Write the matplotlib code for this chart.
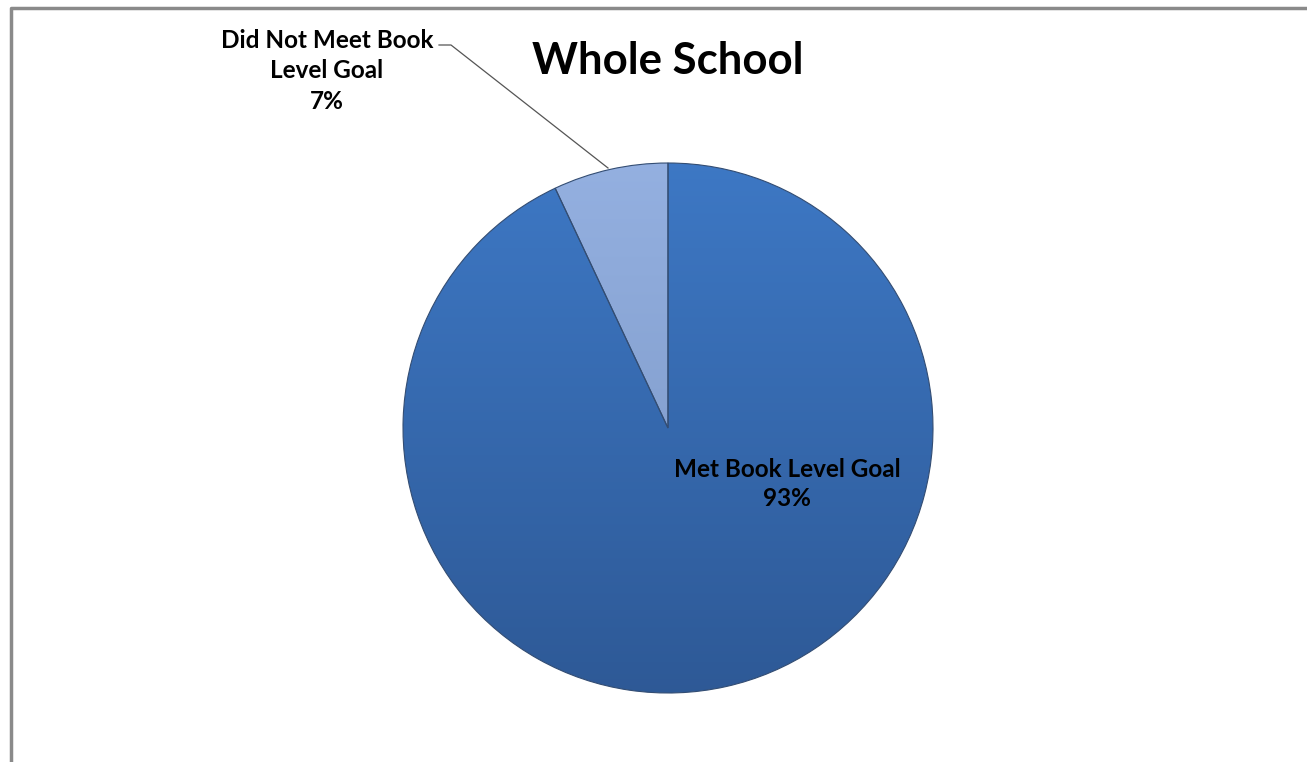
import matplotlib
matplotlib.use("Agg")
import matplotlib.pyplot as plt
import numpy as np

# datos del grafico
categorias = ["Did Not Meet Book\nLevel Goal", "Met Book Level Goal"]
valores = [7, 93]
etiquetas = ["Did Not Meet Book\nLevel Goal\n7%", "Met Book Level Goal\n93%"]
titulo = "Whole School"

# colores arriba / abajo para el degradado de cada porcion
colores_arriba = [(0.58, 0.69, 0.88), (0.24, 0.47, 0.77)]
colores_abajo = [(0.47, 0.58, 0.76), (0.18, 0.35, 0.59)]

plt.rcParams['font.family'] = ['Lato', 'DejaVu Sans']

W, H = 1307, 762
fig = plt.figure(figsize=(W / 100, H / 100), dpi=100)
ax = fig.add_axes([0, 0, 1, 1])

cx, cy, r = 668, H - 428, 265
wedges, _ = ax.pie(valores, startangle=90, counterclock=True, center=(cx, cy),
                   radius=r, frame=True,
                   wedgeprops=dict(edgecolor=(0.2, 0.3, 0.45), linewidth=0.8))
ax.set_xlim(0, W)
ax.set_ylim(0, H)
ax.axis('off')

# degradado vertical recortado a cada porcion
t = np.linspace(0, 1, 256)[:, None]
for w, ca, cb in zip(wedges, colores_arriba, colores_abajo):
    ca = np.array(ca)
    cb = np.array(cb)
    img = (ca[None, None, :] * (1 - t[:, :, None]) + cb[None, None, :] * t[:, :, None])
    img = np.repeat(img, 2, axis=1)
    im = ax.imshow(img, extent=(cx - r, cx + r, cy - r, cy + r), origin='upper',
                   aspect='auto', zorder=1)
    im.set_clip_path(w)
    w.set_facecolor('none')
    w.set_zorder(2)

ax.set_xlim(0, W)
ax.set_ylim(0, H)

# titulo
ax.text(668, H - 61, titulo, ha='center', va='center', fontsize=31.5,
        fontweight='bold', color='black')

# etiquetas
ax.text(327, H - 71, etiquetas[0], ha='center', va='center', fontsize=17.5,
        fontweight='bold', linespacing=1.42)
ax.text(787, H - 484, etiquetas[1], ha='center', va='center', fontsize=17.5,
        fontweight='bold', linespacing=1.35)

# linea guia
ax.plot([439, 451, 608], [H - 45, H - 45, H - 168], color='#555555', lw=0.9, zorder=4)

# marco gris (solo arriba e izquierda visibles)
ax.plot([11, 11, W + 5], [-5, H - 8, H - 8], color='#8a8a8a', lw=2.5, zorder=5,
        clip_on=False)

fig.savefig("out.png", dpi=100)
